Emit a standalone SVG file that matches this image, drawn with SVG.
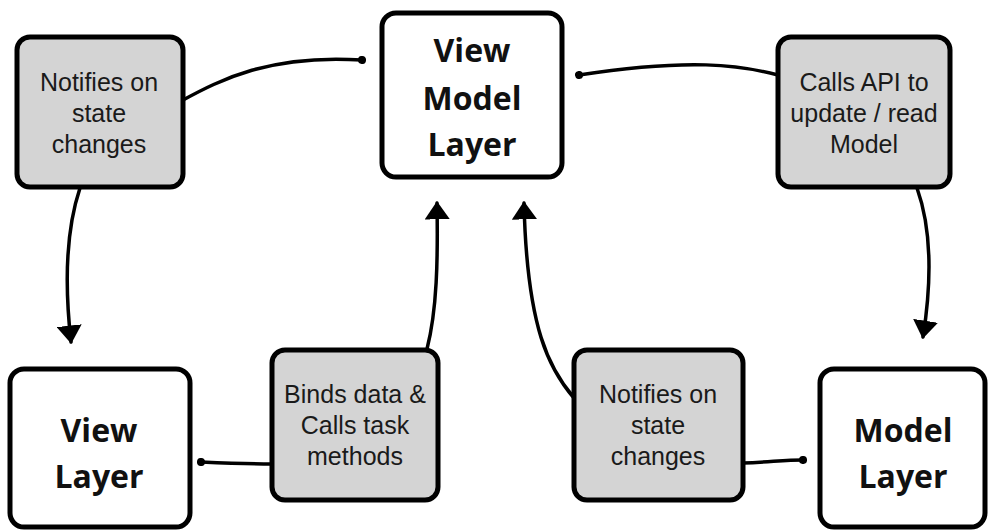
<svg xmlns="http://www.w3.org/2000/svg" width="992" height="532" viewBox="0 0 992 532">
<style>
.layer{fill:#ffffff;stroke:#000;stroke-width:5;stroke-linejoin:round}
.note{fill:#d4d4d4;stroke:#000;stroke-width:5;stroke-linejoin:round}
.bt{font-family:"Open Sans","Noto Sans","DejaVu Sans",sans-serif;font-weight:bold;font-size:32px;fill:#111;text-anchor:middle}
.nt{font-family:"Liberation Sans",Arial,sans-serif;font-size:25px;fill:#1a1a1a;text-anchor:middle}
.conn{fill:none;stroke:#000;stroke-width:3.5;stroke-linecap:round}
</style>
<defs>
<marker id="arrow" viewBox="0 0 10 10" preserveAspectRatio="none" refX="9" refY="5" markerWidth="5.2" markerHeight="7.2" orient="auto" markerUnits="strokeWidth">
<path d="M0,0 L10,5 L0,10 Z" fill="#000"/>
</marker>
<marker id="dot" viewBox="0 0 10 10" refX="5" refY="5" markerWidth="2.3" markerHeight="2.3" orient="auto" markerUnits="strokeWidth">
<circle cx="5" cy="5" r="5" fill="#000"/>
</marker>
</defs>
<g id="connectors">
<path class="conn" d="M183,100 C220,80 270,54 362,60" marker-end="url(#dot)"/>
<path class="conn" d="M778,75 C740,65 690,58 579,75" marker-end="url(#dot)"/>
<path class="conn" d="M80,188 C66,230 64,280 71,342" marker-end="url(#arrow)"/>
<path class="conn" d="M917,188 C932,230 932,280 923,337" marker-end="url(#arrow)"/>
<path class="conn" d="M427,349 C437,310 438,260 437,203" marker-end="url(#arrow)"/>
<path class="conn" d="M574,398 C550,370 527,330 524,203" marker-end="url(#arrow)"/>
<path class="conn" d="M272,464 C250,464 225,463 201,462" marker-end="url(#dot)"/>
<path class="conn" d="M743,463 C770,462 785,460 803,460" marker-end="url(#dot)"/>
</g>
<g id="notifies-top">
<rect class="note" x="17" y="37" width="166" height="150" rx="13"/>
<text class="nt" x="99" y="91">Notifies on</text>
<text class="nt" x="99" y="122">state</text>
<text class="nt" x="99" y="153">changes</text>
</g>
<g id="view-model-layer">
<rect class="layer" x="382" y="13" width="180" height="164" rx="14"/>
<text class="bt" x="472" y="62">View</text>
<text class="bt" x="472" y="110">Model</text>
<text class="bt" x="472" y="156">Layer</text>
</g>
<g id="calls-api">
<rect class="note" x="778" y="37" width="172" height="150" rx="13"/>
<text class="nt" x="864" y="91">Calls API to</text>
<text class="nt" x="864" y="122">update / read</text>
<text class="nt" x="864" y="153">Model</text>
</g>
<g id="view-layer">
<rect class="layer" x="10" y="369" width="180" height="158" rx="14"/>
<text class="bt" x="99" y="442">View</text>
<text class="bt" x="99" y="488">Layer</text>
</g>
<g id="binds-data">
<rect class="note" x="272" y="350" width="166" height="150" rx="13"/>
<text class="nt" x="355" y="403">Binds data &amp;</text>
<text class="nt" x="355" y="434">Calls task</text>
<text class="nt" x="355" y="465">methods</text>
</g>
<g id="notifies-bottom">
<rect class="note" x="574" y="350" width="169" height="150" rx="13"/>
<text class="nt" x="658" y="403">Notifies on</text>
<text class="nt" x="658" y="434">state</text>
<text class="nt" x="658" y="465">changes</text>
</g>
<g id="model-layer">
<rect class="layer" x="820" y="369" width="165" height="158" rx="14"/>
<text class="bt" x="903" y="442">Model</text>
<text class="bt" x="903" y="488">Layer</text>
</g>
</svg>
